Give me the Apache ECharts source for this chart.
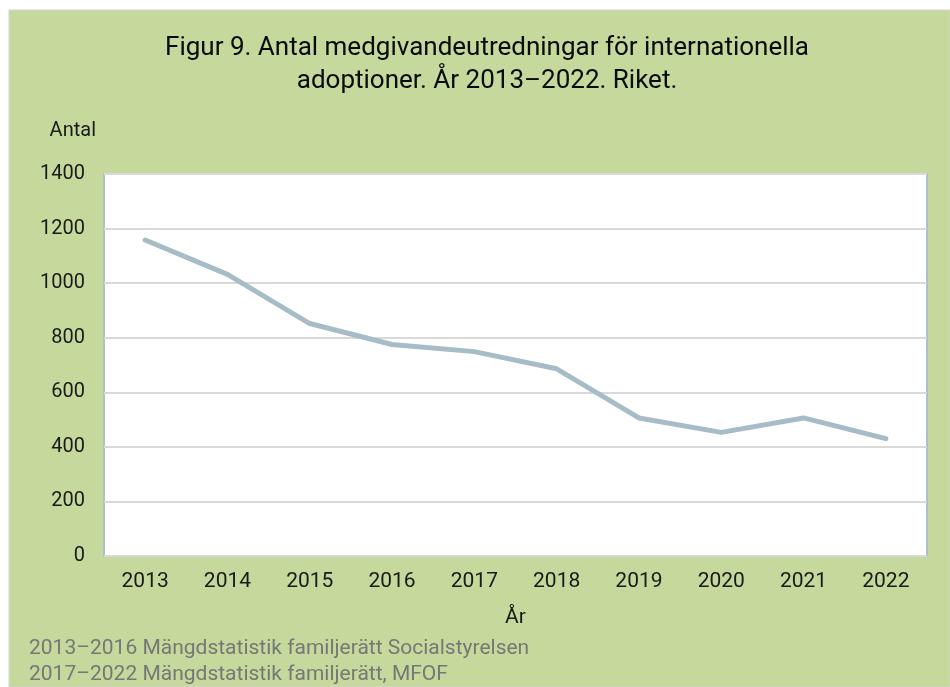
<!DOCTYPE html>
<html>
<head>
<meta charset="utf-8">
<script src="https://cdn.jsdelivr.net/npm/echarts@6/dist/echarts.min.js"></script>
<style>
  html, body { margin: 0; padding: 0; background: #fff; }
  #chart { width: 950px; height: 687px; }
</style>
</head>
<body>
<div id="chart"></div>
<script>
// data
const years = ['2013', '2014', '2015', '2016', '2017', '2018', '2019', '2020', '2021', '2022'];
const counts = [1158, 1032, 852, 775, 749, 686, 506, 453, 506, 430];
const yTicks = [0, 200, 400, 600, 800, 1000, 1200, 1400];
const titleLines = [
  'Figur 9. Antal medgivandeutredningar för internationella',
  'adoptioner. År 2013–2022. Riket.'
];
const sources = [
  '2013–2016 Mängdstatistik familjerätt Socialstyrelsen',
  '2017–2022 Mängdstatistik familjerätt, MFOF'
];

const font = 'Roboto, "Noto Sans", sans-serif';
const textColor = '#1a1a1a';

const chart = echarts.init(document.getElementById('chart'));

chart.setOption({
  backgroundColor: '#fff',
  animation: false,
  graphic: [
    {
      type: 'rect',
      z: -10,
      shape: { x: 9, y: 10, width: 941, height: 677 },
      style: { fill: '#c4d99b', stroke: '#d6d6d6', lineWidth: 1 }
    },
    {
      type: 'text',
      x: 487,
      y: 32,
      style: {
        text: titleLines.join('\n'),
        font: 'normal 26px ' + font,
        fill: '#0a0a0a',
        align: 'center',
        verticalAlign: 'top',
        lineHeight: 33
      }
    },
    {
      type: 'text',
      x: 29,
      y: 636,
      style: {
        text: sources.join('\n'),
        font: 'normal 21px ' + font,
        fill: '#777',
        align: 'left',
        verticalAlign: 'top',
        lineHeight: 26
      }
    }
  ],
  grid: {
    left: 104,
    right: 23,
    top: 174,
    bottom: 131,
    show: true,
    backgroundColor: '#fff',
    borderColor: '#aebfcc',
    borderWidth: 2
  },
  xAxis: {
    type: 'category',
    data: years,
    boundaryGap: true,
    name: 'År',
    nameLocation: 'middle',
    nameGap: 51,
    nameTextStyle: { fontFamily: font, fontSize: 21, color: textColor },
    axisLine: { show: false },
    axisTick: { show: false },
    axisLabel: { fontFamily: font, fontSize: 21, color: textColor, margin: 15 }
  },
  yAxis: {
    type: 'value',
    min: yTicks[0],
    max: yTicks[yTicks.length - 1],
    interval: 200,
    name: 'Antal',
    nameLocation: 'end',
    nameGap: 43,
    nameTextStyle: { fontFamily: font, fontSize: 20, color: textColor, align: 'right', verticalAlign: 'middle', padding: [0, 8, 0, 0] },
    axisLine: { show: false },
    axisTick: { show: false },
    axisLabel: { fontFamily: font, fontSize: 20, color: textColor, margin: 19, formatter: v => String(v) },
    splitLine: { lineStyle: { color: '#d9d9d9', width: 2 } }
  },
  series: [
    {
      type: 'line',
      data: counts,
      symbol: 'none',
      lineStyle: { color: '#a6bcc7', width: 5, cap: 'round', join: 'round' }
    }
  ]
});
</script>
</body>
</html>
